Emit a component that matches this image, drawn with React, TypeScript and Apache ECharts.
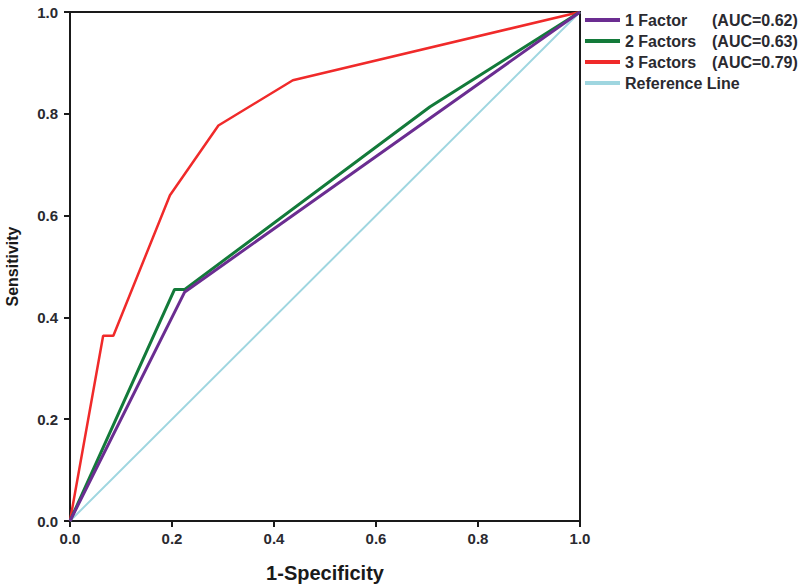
import React, { useEffect, useRef } from "react";
import * as echarts from "echarts";

const seriesNames = ["1 Factor", "2 Factors", "3 Factors", "Reference Line"];
const aucLabels = ["(AUC=0.62)", "(AUC=0.63)", "(AUC=0.79)", ""];
const colors = ["#6b2d91", "#137a3a", "#f02a2a", "#9fd6e0"];

const oneFactor: [number, number][] = [
  [0, 0],
  [0.225, 0.45],
  [1, 1],
];
const twoFactors: [number, number][] = [
  [0, 0],
  [0.205, 0.455],
  [0.225, 0.455],
  [0.706, 0.814],
  [1, 1],
];
const threeFactors: [number, number][] = [
  [0, 0],
  [0.065, 0.364],
  [0.085, 0.364],
  [0.196, 0.64],
  [0.291, 0.777],
  [0.437, 0.866],
  [1, 1],
];
const referenceLine: [number, number][] = [
  [0, 0],
  [1, 1],
];

const axisTicks = [0, 0.2, 0.4, 0.6, 0.8, 1.0];

export default function App() {
  const ref = useRef<HTMLDivElement>(null);
  useEffect(() => {
    if (!ref.current) return;
    const chart = echarts.init(ref.current, undefined, { renderer: "svg" });
    const datasets = [oneFactor, twoFactors, threeFactors, referenceLine];
    const widths = [3, 3, 2.5, 2];
    const font = "Liberation Sans, Arial, sans-serif";
    const legendText = { fontFamily: font, fontWeight: "bold", fontSize: 16, lineHeight: 16, color: "#2a2a30" };
    chart.setOption({
      animation: false,
      backgroundColor: "#ffffff",
      grid: {
        left: 70,
        right: 220,
        top: 12,
        bottom: 65,
        containLabel: false,
        outerBoundsMode: "none",
        show: true,
        borderColor: "#1a1a1a",
        borderWidth: 2,
        backgroundColor: "transparent",
      },
      legend: {
        orient: "vertical",
        left: 585,
        top: 12,
        padding: 0,
        itemWidth: 35,
        itemHeight: 4,
        itemGap: 5,
        icon: "rect",
        data: seriesNames,
        formatter: (name: string) => {
          const i = seriesNames.indexOf(name);
          if (aucLabels[i]) return `{a|${name}}{b|${aucLabels[i]}}`;
          return `{c|${name}}`;
        },
        textStyle: {
          ...legendText,
          rich: {
            a: { ...legendText, width: 87 },
            b: { ...legendText },
            c: { ...legendText },
          },
        },
      },
      xAxis: {
        type: "value",
        min: 0,
        max: 1,
        interval: 0.2,
        name: "1-Specificity",
        nameLocation: "middle",
        nameGap: 42,
        nameTextStyle: { fontFamily: font, fontWeight: "bold", fontSize: 20, color: "#1a1a1a" },
        axisLine: { show: true, lineStyle: { color: "#1a1a1a", width: 2 } },
        axisTick: { show: true, length: 6, lineStyle: { color: "#1a1a1a", width: 2 } },
        axisLabel: {
          fontFamily: font,
          fontWeight: "bold",
          fontSize: 15,
          color: "#2a2a30",
          margin: 10,
          formatter: (v: number) => (axisTicks.some((t) => Math.abs(t - v) < 1e-9) ? v.toFixed(1) : ""),
        },
        splitLine: { show: false },
      },
      yAxis: {
        type: "value",
        min: 0,
        max: 1,
        interval: 0.2,
        name: "Sensitivity",
        nameLocation: "middle",
        nameGap: 50,
        nameTextStyle: { fontFamily: font, fontWeight: "bold", fontSize: 16, color: "#1a1a1a" },
        axisLine: { show: true, lineStyle: { color: "#1a1a1a", width: 2 } },
        axisTick: { show: true, length: 6, lineStyle: { color: "#1a1a1a", width: 2 } },
        axisLabel: {
          fontFamily: font,
          fontWeight: "bold",
          fontSize: 15,
          color: "#2a2a30",
          margin: 12,
          formatter: (v: number) => v.toFixed(1),
        },
        splitLine: { show: false },
      },
      series: datasets.map((d, i) => ({
        name: seriesNames[i],
        type: "line",
        data: d,
        showSymbol: false,
        symbol: "none",
        z: 10 - i,
        lineStyle: { color: colors[i], width: widths[i] },
        itemStyle: { color: colors[i] },
      })),
    });
    return () => chart.dispose();
  }, []);
  return <div ref={ref} style={{ width: 800, height: 586, position: "absolute", left: 0, top: 0 }} />;
}
